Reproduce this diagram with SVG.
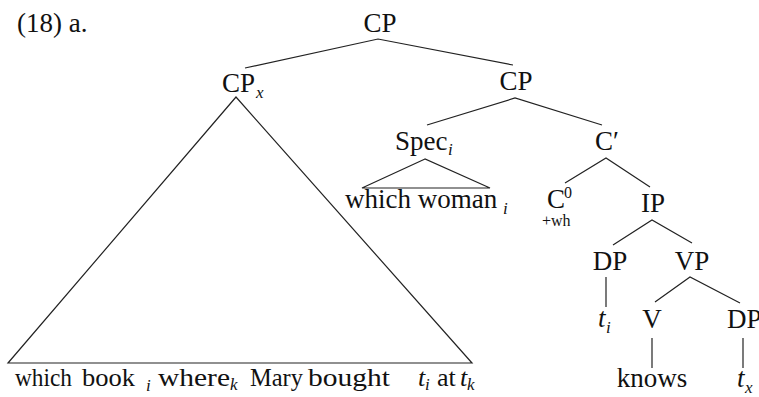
<svg xmlns="http://www.w3.org/2000/svg" width="759" height="397" viewBox="0 0 759 397">
  <style>
    text { font-family: "Liberation Serif", "Times New Roman", serif; fill: #111; }
    .lbl { font-size: 27px; }
    .yl { font-size: 26px; }
    .mid { text-anchor: middle; }
    .sub { font-size: 17px; font-style: italic; }
    .sm { font-size: 16px; }
    .it { font-style: italic; }
    .edge { stroke: #222; stroke-width: 1.2; fill: none; stroke-linejoin: miter; }
  </style>
  <rect width="759" height="397" fill="#fff"/>

  <!-- example number -->
  <text class="lbl" x="17" y="32">(18) a.</text>

  <!-- tree branches and triangles -->
  <g id="connectors">
    <polyline class="edge" points="245,68 378,39 513,65"/>
    <polygon class="edge" points="236,97 8,363 472,363"/>
    <polyline class="edge" points="427,125 515,98 602,125"/>
    <polygon class="edge" points="425,159 362,188 490,188"/>
    <polyline class="edge" points="565,183 606,158 650,187"/>
    <polyline class="edge" points="613,245 652,220 692,243"/>
    <line class="edge" x1="606" y1="277" x2="606" y2="307"/>
    <polyline class="edge" points="655,302 690,277 740,303"/>
    <line class="edge" x1="652" y1="338" x2="652" y2="368"/>
    <line class="edge" x1="743" y1="338" x2="743" y2="368"/>
  </g>

  <g id="cp-root"><text class="lbl mid" x="380" y="32">CP</text></g>
  <g id="cp-x"><text class="lbl" x="222" y="92">CP</text><text class="sub" x="256" y="98">x</text></g>
  <g id="cp-right"><text class="lbl mid" x="516" y="90">CP</text></g>
  <g id="spec"><text class="lbl" x="395" y="150">Spec</text><text class="sub" x="448" y="155">i</text></g>
  <g id="spec-yield"><text class="lbl" x="345" y="208">which woman</text><text class="sub" x="503" y="214">i</text></g>
  <g id="c-bar"><text class="lbl" x="595" y="150">C′</text></g>
  <g id="c-zero"><text class="lbl" x="547" y="208">C</text><text class="sm" x="564" y="198">0</text><text class="sm" x="542" y="226">+wh</text></g>
  <g id="ip"><text class="lbl mid" x="653" y="212">IP</text></g>
  <g id="dp-subj"><text class="lbl mid" x="610" y="270">DP</text></g>
  <g id="vp"><text class="lbl mid" x="692" y="270">VP</text></g>
  <g id="trace-i"><text class="lbl it" x="598" y="327">t</text><text class="sub" x="606" y="333">i</text></g>
  <g id="v"><text class="lbl mid" x="652" y="328">V</text></g>
  <g id="dp-obj"><text class="lbl" x="727" y="328">DP</text></g>
  <g id="knows"><text class="lbl mid" x="652" y="387">knows</text></g>
  <g id="trace-x"><text class="lbl it" x="737" y="387">t</text><text class="sub" x="745" y="393">x</text></g>

  <!-- yield of CPx -->
  <g id="cp-x-yield">
    <text class="yl" x="15" y="386" textLength="57" lengthAdjust="spacingAndGlyphs">which</text>
    <text class="yl" x="82" y="386" textLength="53" lengthAdjust="spacingAndGlyphs">book</text>
    <text class="sub" x="146" y="391">i</text>
    <text class="yl" x="158" y="386" textLength="72" lengthAdjust="spacingAndGlyphs">where</text>
    <text class="sub" x="230" y="390">k</text>
    <text class="yl" x="250" y="386" textLength="53" lengthAdjust="spacingAndGlyphs">Mary</text>
    <text class="yl" x="308" y="386" textLength="82" lengthAdjust="spacingAndGlyphs">bought</text>
    <text class="yl it" x="418" y="386">t</text>
    <text class="sub" x="425" y="390">i</text>
    <text class="yl" x="437" y="386">at</text>
    <text class="yl it" x="460" y="386">t</text>
    <text class="sub" x="467" y="390">k</text>
  </g>
</svg>
